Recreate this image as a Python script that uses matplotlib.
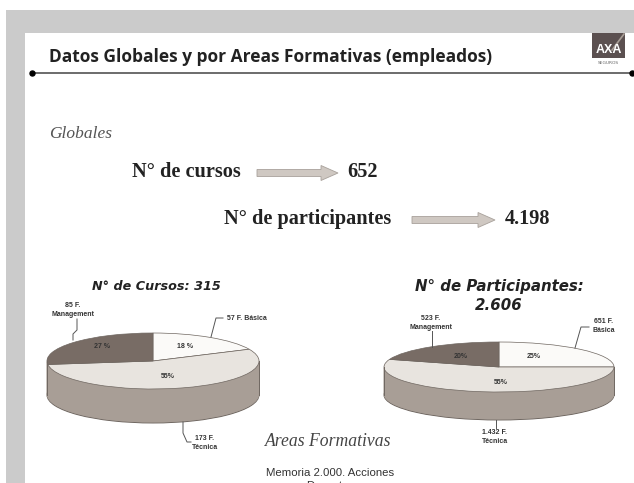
import numpy as np
import matplotlib
matplotlib.use("Agg")
import matplotlib.pyplot as plt
from matplotlib.patches import Rectangle, Polygon

W, H = 634, 483

# course and participant counts per training area
cursos = [57, 173, 85]
participantes = [651, 1432, 523]
pct_cursos = ["18 %", "55%", "27 %"]
pct_participantes = ["25%", "55%", "20%"]
etiquetas_cursos = ["57 F. Básica", "173 F.\nTécnica", "85 F.\nManagement"]
etiquetas_participantes = ["651 F.\nBásica", "1.432 F.\nTécnica", "523 F.\nManagement"]
colores = ["#fbfaf8", "#e8e4df", "#786c65"]
lateral = "#a89e96"
borde = "#6f6761"

fig = plt.figure(figsize=(W / 100, H / 100), dpi=100)
fig.patch.set_facecolor("white")

# page layer in pixel coordinates, y going down
pg = fig.add_axes([0, 0, 1, 1])
pg.set_xlim(0, W)
pg.set_ylim(H, 0)
pg.axis("off")

# grey slide background and white sheet
pg.add_patch(Rectangle((6, 10), W - 6, H - 10, fc="#cbcbcb", ec="none"))
pg.add_patch(Rectangle((25, 33), W - 25, H - 33, fc="white", ec="none"))

# header
pg.text(49, 57, "Datos Globales y por Areas Formativas (empleados)", fontsize=12.5,
        family="Open Sans", weight="bold", color="#222222", va="center")
pg.plot([32, W], [72.5, 72.5], color="#444444", lw=1.1)
pg.plot([32, 632], [72.5, 72.5], "o", color="black", ms=3.6)

# logo block
pg.add_patch(Rectangle((592, 33), 33, 25, fc="#5b5050", ec="none"))
pg.plot([612, 624], [50, 34], color="#a89e96", lw=1.2)
pg.text(608.5, 50, "AXA", fontsize=9, family="Liberation Sans", weight="bold",
        color="white", ha="center", va="center")
pg.text(608.5, 63, "SEGUROS", fontsize=3.2, color="#666666", ha="center", va="center")

serif = "Liberation Serif"
pg.text(49, 134, "Globales", fontsize=12.5, family=serif, style="italic", color="#555555", va="center")


def flecha(x0, x1, y):
    # block arrow between a label and its total
    cuerpo = 3.5
    punta = 7.5
    xp = x1 - 17
    pts = [(x0, y - cuerpo), (xp, y - cuerpo), (xp, y - punta), (x1, y),
           (xp, y + punta), (xp, y + cuerpo), (x0, y + cuerpo)]
    pg.add_patch(Polygon(pts, fc="#cfc8c2", ec="#a8a19b", lw=0.6))


pg.text(132, 172, "N° de cursos", fontsize=14.6, family=serif, weight="bold", color="#222222", va="center")
flecha(257, 338, 173)
pg.text(347, 172, "652", fontsize=14.6, family=serif, weight="bold", color="#222222", va="center")
pg.text(224, 219, "N° de participantes", fontsize=14.6, family=serif, weight="bold", color="#222222", va="center")
flecha(412, 495, 220)
pg.text(505, 219, "4.198", fontsize=14.6, family=serif, weight="bold", color="#222222", va="center")


def tarta(valores, cx, cy, rx, ry, prof):
    # squashed pie with a stack of solid discs underneath for the wall
    ax = fig.add_axes([(cx - rx) / W, 1 - (cy + ry + prof) / H, 2 * rx / W, (2 * ry + prof) / H])
    paso = 1 / ry
    total = prof / ry
    ax.pie([sum(valores)], startangle=90, radius=1, center=(0, -total), colors=[lateral],
           wedgeprops=dict(ec=borde, lw=0.7))
    for d in np.arange(total - paso, 0, -paso):
        ax.pie([sum(valores)], startangle=90, radius=1, center=(0, -d), colors=[lateral],
               wedgeprops=dict(ec=lateral, lw=0.4))
    ax.plot([-1, -1], [0, -total], color=borde, lw=0.7)
    ax.plot([1, 1], [0, -total], color=borde, lw=0.7)
    ax.pie(valores, startangle=90, counterclock=False, radius=1, colors=colores,
           wedgeprops=dict(ec=borde, lw=0.5))
    ax.set_aspect("auto")
    ax.set_xlim(-1, 1)
    ax.set_ylim(-1 - total, 1)
    ax.patch.set_alpha(0)
    for p in ax.patches:
        p.set_clip_on(False)
    for ln in ax.lines:
        ln.set_clip_on(False)
    return ax


tarta(cursos, 153, 361, 106, 28, 34)
tarta(participantes, 499, 367, 115, 25, 28)

# small annotations go on a layer above the pies
tx = fig.add_axes([0, 0, 1, 1])
tx.set_xlim(0, W)
tx.set_ylim(H, 0)
tx.axis("off")


def rotulo(x, y, s, size=5):
    tx.text(x, y, s, fontsize=size, family="Liberation Sans", weight="bold", color="#333333",
            ha="center", va="center", linespacing=1.3)


def guia(xs, ys):
    tx.plot(xs, ys, color="#555555", lw=0.7)


# left pie
tx.text(156, 287, "N° de Cursos: 315", fontsize=9.2, family="DejaVu Sans", weight="bold",
        style="italic", color="#222222", ha="center", va="center")
rotulo(185, 346, pct_cursos[0])
rotulo(168, 377, pct_cursos[1])
rotulo(102, 346, pct_cursos[2])
rotulo(247, 318, etiquetas_cursos[0])
rotulo(205, 443, etiquetas_cursos[1])
rotulo(73, 310, etiquetas_cursos[2])
guia([223, 216, 211], [318, 318, 337])
guia([183, 183, 187, 191], [422, 433, 442, 442])
guia([77, 77, 73, 73], [319, 330, 334, 340])

# right pie
tx.text(499, 287, "N° de Participantes:", fontsize=10.8, family="DejaVu Sans", weight="bold",
        style="italic", color="#222222", ha="center", va="center")
tx.text(499, 305, "2.606", fontsize=10.8, family="DejaVu Sans", weight="bold",
        style="italic", color="#222222", ha="center", va="center")
rotulo(534, 356, pct_participantes[0])
rotulo(501, 382, pct_participantes[1])
rotulo(461, 356, pct_participantes[2])
rotulo(604, 326, etiquetas_participantes[0])
rotulo(495, 437, etiquetas_participantes[1])
rotulo(431, 323, etiquetas_participantes[2])
guia([589, 581, 575], [327, 327, 348])
guia([496, 496], [420, 428])
guia([432, 432], [331, 347])

# footer
tx.text(265, 441, "Areas Formativas", fontsize=12.7, family=serif, style="italic", color="#444444", va="center")
tx.text(330, 473, "Memoria 2.000. Acciones", fontsize=8.2, family="Liberation Sans", color="#333333",
        ha="center", va="center")
tx.text(330, 486, "Docentes", fontsize=8.2, family="Liberation Sans", color="#333333", ha="center", va="center")

fig.savefig("out.png", dpi=100)
